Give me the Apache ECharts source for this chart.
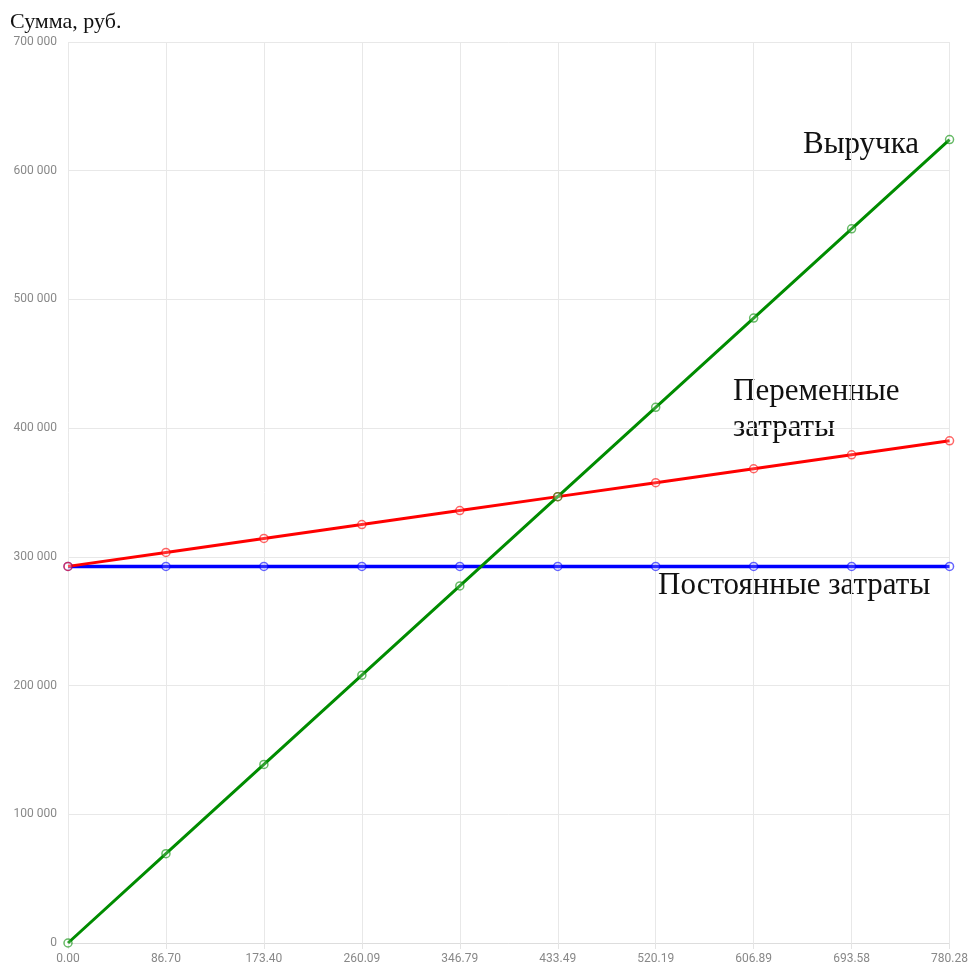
<!DOCTYPE html>
<html>
<head>
<meta charset="utf-8">
<script src="https://cdn.jsdelivr.net/npm/echarts@6/dist/echarts.min.js"></script>
<style>
  html, body { margin: 0; padding: 0; background: #fff; }
  #chart { width: 971px; height: 969px; }
</style>
</head>
<body>
<div id="chart"></div>
<script>
// объём продаж, шт.
const volumes = ["0.00", "86.70", "173.40", "260.09", "346.79", "433.49", "520.19", "606.89", "693.58", "780.28"];
// выручка
const revenue = [0, 69360, 138720, 208072, 277432, 346792, 416152, 485512, 554864, 624224];
// переменные затраты (вместе с постоянными)
const variableCosts = [292600, 303440, 314280, 325110, 335950, 346790, 357620, 368460, 379300, 390140];
// постоянные затраты
const fixedCosts = [292600, 292600, 292600, 292600, 292600, 292600, 292600, 292600, 292600, 292600];

const chart = echarts.init(document.getElementById("chart"));

function lineSeries(name, data, color, width) {
  return {
    name: name,
    type: "line",
    data: data,
    symbol: "circle",
    symbolSize: 8,
    showSymbol: true,
    lineStyle: { color: color, width: width },
    itemStyle: { color: "rgba(255,255,255,0.3)", borderColor: color, borderWidth: 1.5, opacity: 0.6 },
    emphasis: { disabled: true },
  };
}

const labelFont = {
  fontFamily: "Liberation Serif, DejaVu Serif, serif",
  fontSize: 31,
  fill: "#111",
};

const option = {
  animation: false,
  grid: { left: 68, right: 21, top: 42, bottom: 26 },
  xAxis: {
    type: "category",
    data: volumes,
    boundaryGap: false,
    axisLine: { lineStyle: { color: "#dddddd", width: 1 } },
    axisTick: { show: true, alignWithLabel: true, length: 6, lineStyle: { color: "#e4e4e4" } },
    axisLabel: { color: "#888", fontSize: 12, fontFamily: "Roboto, sans-serif", margin: 10 },
    splitLine: { show: true, lineStyle: { color: "#e8e8e8" } },
  },
  yAxis: {
    type: "value",
    min: 0,
    max: 700000,
    interval: 100000,
    axisLine: { show: false },
    axisTick: { show: false },
    axisLabel: {
      color: "#888",
      fontSize: 12,
      fontFamily: "Roboto, sans-serif",
      margin: 11,
      formatter: (v) => String(v).replace(/\B(?=(\d{3})+(?!\d))/g, " "),
    },
    splitLine: { show: true, lineStyle: { color: "#e8e8e8" } },
  },
  series: [
    lineSeries("Постоянные затраты", fixedCosts, "#0000ff", 3.5),
    lineSeries("Переменные затраты", variableCosts, "#ff0000", 3),
    lineSeries("Выручка", revenue, "#008c00", 3),
  ],
  graphic: [
    { type: "text", left: 10, top: 11, style: { text: "Сумма, руб.", fontFamily: "Liberation Serif, DejaVu Serif, serif", fontSize: 22, fill: "#111" } },
    { type: "text", left: 803, top: 129, style: Object.assign({ text: "Выручка" }, labelFont) },
    { type: "text", left: 733, top: 374, style: Object.assign({ text: "Переменные\nзатраты", lineHeight: 36 }, labelFont) },
    { type: "text", left: 658, top: 570, style: Object.assign({ text: "Постоянные затраты" }, labelFont) },
  ],
};

chart.setOption(option);
</script>
</body>
</html>
